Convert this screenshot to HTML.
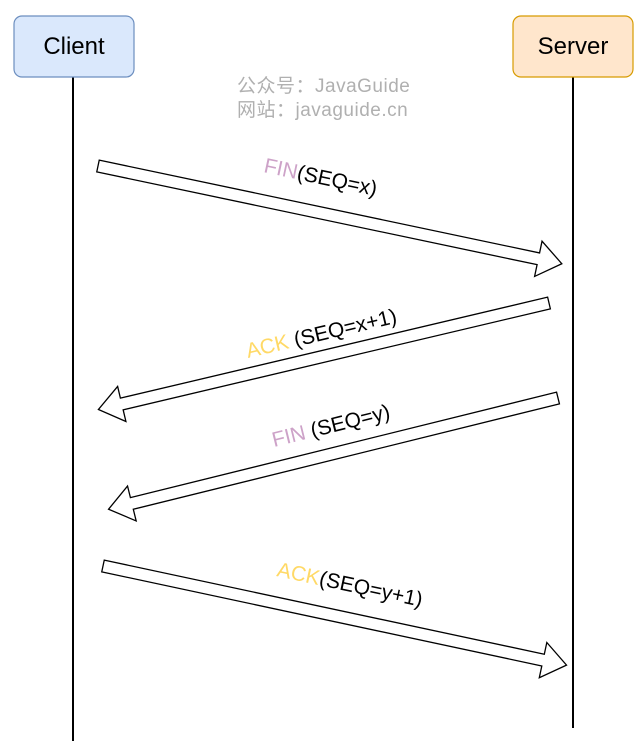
<!DOCTYPE html>
<html><head><meta charset="utf-8"><style>
html,body{margin:0;padding:0;background:#fff;}
svg{display:block;font-family:"Liberation Sans","Noto Sans CJK SC",sans-serif;}
</style></head><body>
<svg width="643" height="750" viewBox="0 0 643 750">
<line x1="73" y1="77" x2="73" y2="741" stroke="#000" stroke-width="2"/>
<line x1="573" y1="77" x2="573" y2="728" stroke="#000" stroke-width="2"/>
<rect x="14" y="16" width="120" height="61" rx="8" fill="#dae8fc" stroke="#6c8ebf" stroke-width="1.2"/>
<text x="74" y="54" font-size="24" text-anchor="middle" fill="#000">Client</text>
<rect x="513" y="16" width="120" height="61" rx="8" fill="#ffe6cc" stroke="#d79b00" stroke-width="1.2"/>
<text x="573" y="54" font-size="24" text-anchor="middle" fill="#000">Server</text>
<text x="237" y="92" font-size="19" letter-spacing="0.5" fill="#b0b0b0">公众号：JavaGuide</text>
<text x="237" y="116" font-size="19" letter-spacing="0.5" fill="#b0b0b0">网站：javaguide.cn</text>
<g fill="#fff" stroke="#000" stroke-width="1.3">
<g transform="translate(98,166) rotate(11.9)"><polygon points="0,-6 450,-6 450,-18 474,0 450,18 450,6 0,6"/></g>
<g transform="translate(549,303) rotate(166.7)"><polygon points="0,-6 439,-6 439,-18 463,0 439,18 439,6 0,6"/></g>
<g transform="translate(558,398) rotate(166.1)"><polygon points="0,-6 439,-6 439,-18 463,0 439,18 439,6 0,6"/></g>
<g transform="translate(103,566) rotate(12.07)"><polygon points="0,-6 450,-6 450,-18 474,0 450,18 450,6 0,6"/></g>
</g>
<g font-size="21">
<text transform="translate(263,172) rotate(12)"><tspan fill="#cda2c8">FIN</tspan><tspan fill="#000">(SEQ=x)</tspan></text>
<text transform="translate(248,358) rotate(-13.3)"><tspan fill="#ffd966">ACK</tspan><tspan fill="#000"> (SEQ=x+1)</tspan></text>
<text transform="translate(274,447) rotate(-13.9)"><tspan fill="#cda2c8">FIN</tspan><tspan fill="#000"> (SEQ=y)</tspan></text>
<text transform="translate(276,576) rotate(12)"><tspan fill="#ffd966">ACK</tspan><tspan fill="#000">(SEQ=y+1)</tspan></text>
</g>
</svg>
</body></html>
